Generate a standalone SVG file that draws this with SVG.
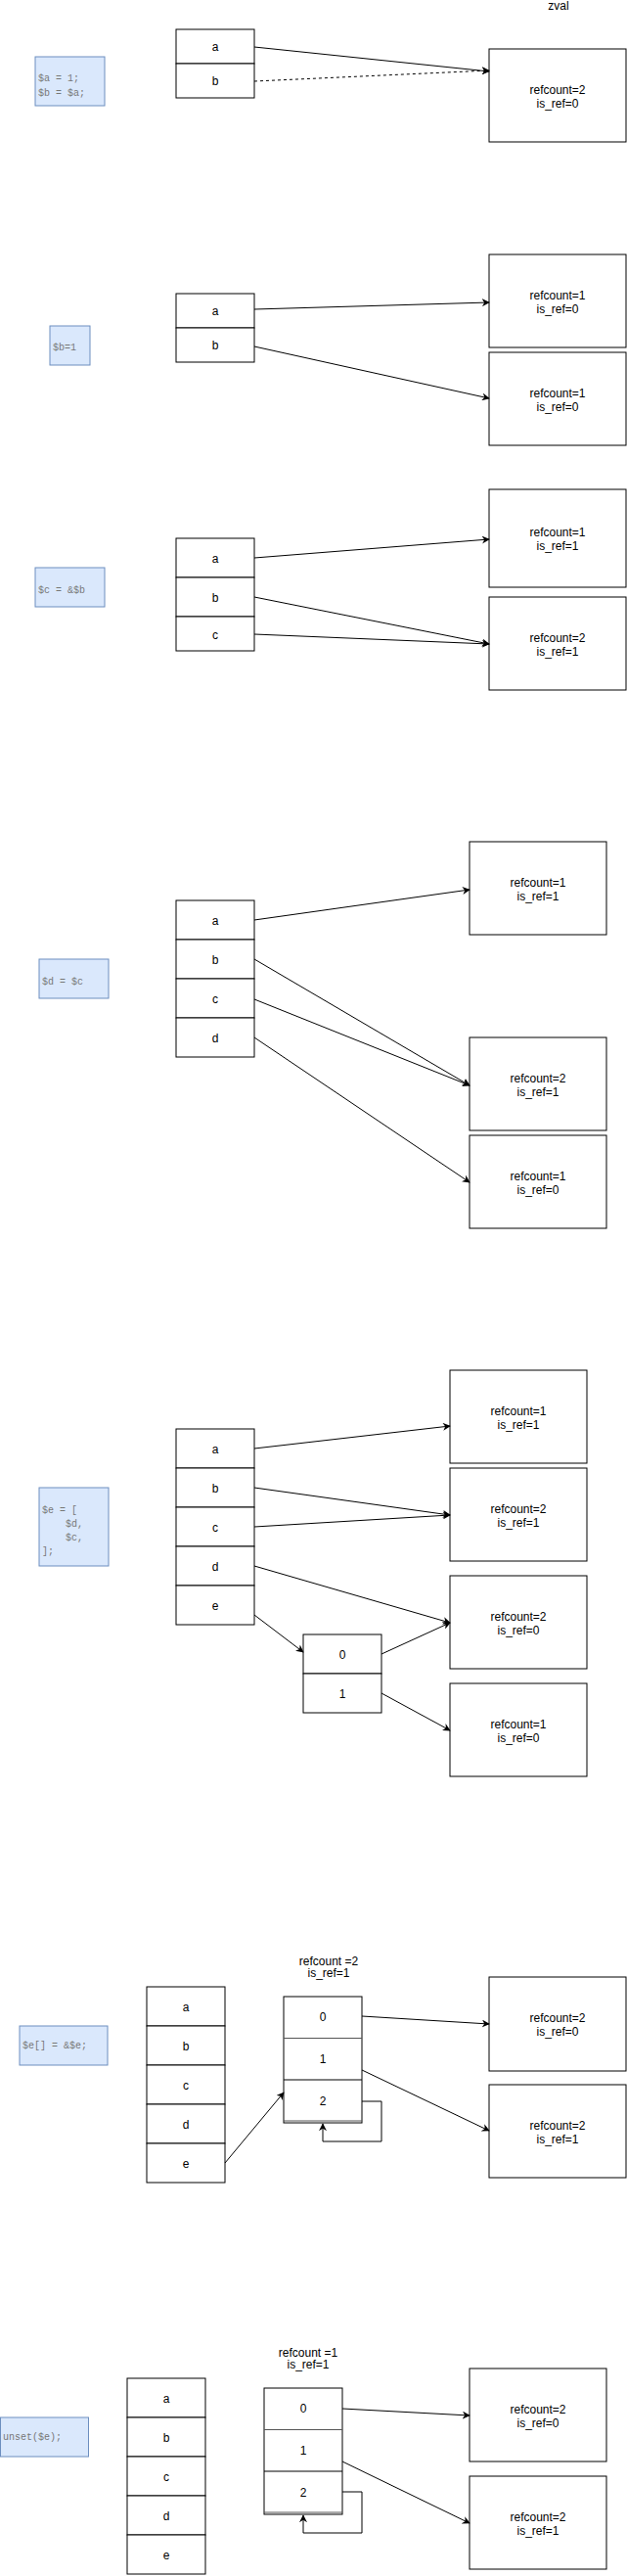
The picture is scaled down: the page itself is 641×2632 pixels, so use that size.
<svg xmlns="http://www.w3.org/2000/svg" width="641" height="2632" viewBox="0 0 641 2632">
<style>
.c{fill:#fff;stroke:#000;stroke-width:1}
.code{fill:#dae8fc;stroke:#6c8ebf;stroke-width:1}
.t{font-family:"Liberation Sans",Arial,sans-serif;font-size:12px;fill:#000;text-anchor:middle;dominant-baseline:central}
.m{font-family:"Liberation Mono","Courier New",monospace;font-size:10px;fill:#777;dominant-baseline:central;white-space:pre}
.l{fill:none;stroke:#000;stroke-width:1;marker-end:url(#ah)}
</style>
<defs>
<marker id="ah" viewBox="0 0 10 10" refX="9" refY="5" markerWidth="8" markerHeight="8" markerUnits="userSpaceOnUse" orient="auto">
<path d="M0,0 L10,5 L0,10 L3,5 Z" fill="#000"/>
</marker>
</defs>
<rect width="641" height="2632" fill="#fff"/>
<text class="t" x="571" y="6">zval</text>

<!-- Section 1 -->
<g id="code1"><rect class="code" x="36" y="58" width="71" height="50"/><text class="m" x="39" y="80">$a = 1;</text><text class="m" x="39" y="95">$b = $a;</text></g>
<g id="s1a"><rect class="c" x="180" y="30" width="80" height="35"/><text class="t" x="220" y="48">a</text></g>
<g id="s1b"><rect class="c" x="180" y="65" width="80" height="35"/><text class="t" x="220" y="83">b</text></g>
<g id="s1z"><rect class="c" x="500" y="50" width="140" height="95"/><text class="t" x="570" y="92">refcount=2</text><text class="t" x="570" y="106">is_ref=0</text></g>

<!-- Section 2 -->
<g id="code2"><rect class="code" x="51" y="333" width="41" height="40"/><text class="m" x="54" y="355">$b=1</text></g>
<g id="s2a"><rect class="c" x="180" y="300" width="80" height="35"/><text class="t" x="220" y="318">a</text></g>
<g id="s2b"><rect class="c" x="180" y="335" width="80" height="35"/><text class="t" x="220" y="353">b</text></g>
<g id="s2z1"><rect class="c" x="500" y="260" width="140" height="95"/><text class="t" x="570" y="302">refcount=1</text><text class="t" x="570" y="316">is_ref=0</text></g>
<g id="s2z2"><rect class="c" x="500" y="360" width="140" height="95"/><text class="t" x="570" y="402">refcount=1</text><text class="t" x="570" y="416">is_ref=0</text></g>

<!-- Section 3 -->
<g id="code3"><rect class="code" x="36" y="580" width="71" height="40"/><text class="m" x="39" y="603">$c = &amp;$b</text></g>
<g id="s3a"><rect class="c" x="180" y="550" width="80" height="40"/><text class="t" x="220" y="571">a</text></g>
<g id="s3b"><rect class="c" x="180" y="590" width="80" height="40"/><text class="t" x="220" y="611">b</text></g>
<g id="s3c"><rect class="c" x="180" y="630" width="80" height="35"/><text class="t" x="220" y="649">c</text></g>
<g id="s3z1"><rect class="c" x="500" y="500" width="140" height="100"/><text class="t" x="570" y="544">refcount=1</text><text class="t" x="570" y="558">is_ref=1</text></g>
<g id="s3z2"><rect class="c" x="500" y="610" width="140" height="95"/><text class="t" x="570" y="652">refcount=2</text><text class="t" x="570" y="666">is_ref=1</text></g>

<!-- Section 4 -->
<g id="code4"><rect class="code" x="40" y="980" width="71" height="40"/><text class="m" x="43" y="1003">$d = $c</text></g>
<g id="s4a"><rect class="c" x="180" y="920" width="80" height="40"/><text class="t" x="220" y="941">a</text></g>
<g id="s4b"><rect class="c" x="180" y="960" width="80" height="40"/><text class="t" x="220" y="981">b</text></g>
<g id="s4c"><rect class="c" x="180" y="1000" width="80" height="40"/><text class="t" x="220" y="1021">c</text></g>
<g id="s4d"><rect class="c" x="180" y="1040" width="80" height="40"/><text class="t" x="220" y="1061">d</text></g>
<g id="s4z1"><rect class="c" x="480" y="860" width="140" height="95"/><text class="t" x="550" y="902">refcount=1</text><text class="t" x="550" y="916">is_ref=1</text></g>
<g id="s4z2"><rect class="c" x="480" y="1060" width="140" height="95"/><text class="t" x="550" y="1102">refcount=2</text><text class="t" x="550" y="1116">is_ref=1</text></g>
<g id="s4z3"><rect class="c" x="480" y="1160" width="140" height="95"/><text class="t" x="550" y="1202">refcount=1</text><text class="t" x="550" y="1216">is_ref=0</text></g>

<!-- Section 5 -->
<g id="code5"><rect class="code" x="40" y="1520" width="71" height="80"/><text class="m" x="43" y="1543">$e = [</text><text class="m" x="43" y="1557">    $d,</text><text class="m" x="43" y="1571">    $c,</text><text class="m" x="43" y="1585">];</text></g>
<g id="s5a"><rect class="c" x="180" y="1460" width="80" height="40"/><text class="t" x="220" y="1481">a</text></g>
<g id="s5b"><rect class="c" x="180" y="1500" width="80" height="40"/><text class="t" x="220" y="1521">b</text></g>
<g id="s5c"><rect class="c" x="180" y="1540" width="80" height="40"/><text class="t" x="220" y="1561">c</text></g>
<g id="s5d"><rect class="c" x="180" y="1580" width="80" height="40"/><text class="t" x="220" y="1601">d</text></g>
<g id="s5e"><rect class="c" x="180" y="1620" width="80" height="40"/><text class="t" x="220" y="1641">e</text></g>
<g id="s5r0"><rect class="c" x="310" y="1670" width="80" height="40"/><text class="t" x="350" y="1691">0</text></g>
<g id="s5r1"><rect class="c" x="310" y="1710" width="80" height="40"/><text class="t" x="350" y="1731">1</text></g>
<g id="s5z1"><rect class="c" x="460" y="1400" width="140" height="95"/><text class="t" x="530" y="1442">refcount=1</text><text class="t" x="530" y="1456">is_ref=1</text></g>
<g id="s5z2"><rect class="c" x="460" y="1500" width="140" height="95"/><text class="t" x="530" y="1542">refcount=2</text><text class="t" x="530" y="1556">is_ref=1</text></g>
<g id="s5z3"><rect class="c" x="460" y="1610" width="140" height="95"/><text class="t" x="530" y="1652">refcount=2</text><text class="t" x="530" y="1666">is_ref=0</text></g>
<g id="s5z4"><rect class="c" x="460" y="1720" width="140" height="95"/><text class="t" x="530" y="1762">refcount=1</text><text class="t" x="530" y="1776">is_ref=0</text></g>

<!-- Section 6 -->
<g id="code6"><rect class="code" x="20" y="2070" width="90" height="40"/><text class="m" x="23" y="2090">$e[] = &amp;$e;</text></g>
<g id="s6a"><rect class="c" x="150" y="2030" width="80" height="40"/><text class="t" x="190" y="2051">a</text></g>
<g id="s6b"><rect class="c" x="150" y="2070" width="80" height="40"/><text class="t" x="190" y="2091">b</text></g>
<g id="s6c"><rect class="c" x="150" y="2110" width="80" height="40"/><text class="t" x="190" y="2131">c</text></g>
<g id="s6d"><rect class="c" x="150" y="2150" width="80" height="40"/><text class="t" x="190" y="2171">d</text></g>
<g id="s6e"><rect class="c" x="150" y="2190" width="80" height="40"/><text class="t" x="190" y="2211">e</text></g>
<g id="s6arr">
<text class="t" x="336" y="2004">refcount =2</text><text class="t" x="336" y="2016">is_ref=1</text>
<rect class="c" x="290" y="2040" width="80" height="129"/>
<line x1="290" y1="2082.5" x2="370" y2="2082.5" stroke="#555"/>
<line x1="290" y1="2125" x2="370" y2="2125" stroke="#000"/>
<line x1="290" y1="2167" x2="370" y2="2167" stroke="#555"/>
<text class="t" x="330" y="2061">0</text><text class="t" x="330" y="2104">1</text><text class="t" x="330" y="2147">2</text>
</g>
<g id="s6z1"><rect class="c" x="500" y="2020" width="140" height="96"/><text class="t" x="570" y="2062">refcount=2</text><text class="t" x="570" y="2076">is_ref=0</text></g>
<g id="s6z2"><rect class="c" x="500" y="2130" width="140" height="95"/><text class="t" x="570" y="2172">refcount=2</text><text class="t" x="570" y="2186">is_ref=1</text></g>

<!-- Section 7 -->
<g id="code7"><rect class="code" x="0.5" y="2470" width="90" height="40"/><text class="m" x="3" y="2490">unset($e);</text></g>
<g id="s7a"><rect class="c" x="130" y="2430" width="80" height="40"/><text class="t" x="170" y="2451">a</text></g>
<g id="s7b"><rect class="c" x="130" y="2470" width="80" height="40"/><text class="t" x="170" y="2491">b</text></g>
<g id="s7c"><rect class="c" x="130" y="2510" width="80" height="40"/><text class="t" x="170" y="2531">c</text></g>
<g id="s7d"><rect class="c" x="130" y="2550" width="80" height="40"/><text class="t" x="170" y="2571">d</text></g>
<g id="s7e"><rect class="c" x="130" y="2590" width="80" height="40"/><text class="t" x="170" y="2611">e</text></g>
<g id="s7arr">
<text class="t" x="315" y="2404">refcount =1</text><text class="t" x="315" y="2416">is_ref=1</text>
<rect class="c" x="270" y="2440" width="80" height="129"/>
<line x1="270" y1="2482.5" x2="350" y2="2482.5" stroke="#555"/>
<line x1="270" y1="2525" x2="350" y2="2525" stroke="#000"/>
<line x1="270" y1="2567" x2="350" y2="2567" stroke="#555"/>
<text class="t" x="310" y="2461">0</text><text class="t" x="310" y="2504">1</text><text class="t" x="310" y="2547">2</text>
</g>
<g id="s7z1"><rect class="c" x="480" y="2420" width="140" height="95"/><text class="t" x="550" y="2462">refcount=2</text><text class="t" x="550" y="2476">is_ref=0</text></g>
<g id="s7z2"><rect class="c" x="480" y="2530" width="140" height="95"/><text class="t" x="550" y="2572">refcount=2</text><text class="t" x="550" y="2586">is_ref=1</text></g>

<g id="connectors">
<path class="l" d="M260,48 L500,73"/>
<path class="l" d="M260,83 L500,72" stroke-dasharray="3,3"/>
<path class="l" d="M260,316 L500,309"/>
<path class="l" d="M260,354 L500,407"/>
<path class="l" d="M260,570 L500,551"/>
<path class="l" d="M260,610 L500,658"/>
<path class="l" d="M260,648 L500,658"/>
<path class="l" d="M260,940 L480,909"/>
<path class="l" d="M260,980 L480,1109"/>
<path class="l" d="M260,1021 L480,1109"/>
<path class="l" d="M260,1060 L480,1208"/>
<path class="l" d="M260,1480 L460,1457"/>
<path class="l" d="M260,1520 L460,1548"/>
<path class="l" d="M260,1560 L460,1548"/>
<path class="l" d="M260,1600 L460,1658"/>
<path class="l" d="M260,1650 L310,1688"/>
<path class="l" d="M390,1690 L460,1658"/>
<path class="l" d="M390,1730 L460,1768"/>
<path class="l" d="M230,2210 L290,2138"/>
<path class="l" d="M370,2060 L500,2068"/>
<path class="l" d="M370,2115 L500,2177"/>
<path class="l" d="M370,2147 L390,2147 L390,2188 L330,2188 L330,2170"/>
<path class="l" d="M350,2461 L480,2468"/>
<path class="l" d="M350,2515 L480,2578"/>
<path class="l" d="M350,2546 L370,2546 L370,2588 L310,2588 L310,2570"/>
</g>
</svg>
